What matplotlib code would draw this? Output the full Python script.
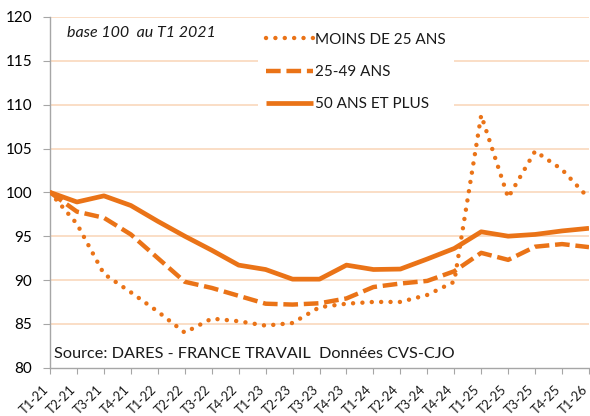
import matplotlib
matplotlib.use("Agg")
import matplotlib.pyplot as plt
import numpy as np

plt.rcParams['font.family'] = ['Lato', 'DejaVu Sans']

quarters = ["T1-21", "T2-21", "T3-21", "T4-21", "T1-22", "T2-22", "T3-22", "T4-22",
            "T1-23", "T2-23", "T3-23", "T4-23", "T1-24", "T2-24", "T3-24", "T4-24",
            "T1-25", "T2-25", "T3-25", "T4-25", "T1-26"]

moins25 = [100.0, 96.4, 90.7, 88.6, 86.4, 84.0, 85.6, 85.3, 84.8, 85.1, 86.9,
           87.3, 87.5, 87.5, 88.3, 89.8, 108.8, 99.4, 104.7, 102.6, 99.3]
a25_49 = [100.0, 97.8, 97.1, 95.2, 92.5, 89.8, 89.1, 88.2, 87.3, 87.2, 87.35,
          87.9, 89.2, 89.6, 89.9, 91.0, 93.1, 92.3, 93.8, 94.1, 93.75]
plus50 = [100.0, 98.9, 99.6, 98.5, 96.7, 95.0, 93.4, 91.7, 91.2, 90.1, 90.1,
          91.7, 91.2, 91.25, 92.4, 93.6, 95.5, 95.0, 95.2, 95.6, 95.9]

names = ["MOINS DE 25 ANS", "25-49 ANS", "50 ANS ET PLUS"]
yticks = [80, 85, 90, 95, 100, 105, 110, 115, 120]

orange = '#EA7317'
grid_c = '#FAD8BC'
spine_c = '#A6A6A6'

fig = plt.figure(figsize=(5.9, 4.16), dpi=100)
ax = fig.add_axes([50/590, 1-367.7/416, 539/590, (367.7-17)/416])

x = np.arange(len(quarters))
ax.plot(x, moins25, color=orange, lw=3.2, linestyle=(0, (0.01, 2.1)),
        dash_capstyle='round', label=names[0], zorder=3)
ax.plot(x, a25_49, color=orange, lw=3.2, linestyle=(0, (3.3, 1.3)),
        dash_capstyle='butt', label=names[1], zorder=3)
ax.plot(x, plus50, color=orange, lw=3.4, solid_capstyle='butt',
        solid_joinstyle='round', label=names[2], zorder=3)

ax.set_xlim(0, len(quarters) - 1)
ax.set_ylim(80, 120)
ax.set_yticks(yticks)
ax.set_yticklabels([str(v) for v in yticks], fontsize=11)
ax.set_xticks(x)
ax.set_xticklabels([])
xtrans = ax.get_xaxis_transform()
for i, q in zip(x, quarters):
    ax.annotate(q, xy=(i, 0), xycoords=xtrans, xytext=(-5.5, -11),
                textcoords='offset points', rotation=45, ha='right', va='top',
                rotation_mode='anchor', fontsize=9.3, color='#1A1A1A',
                annotation_clip=False)

for v in yticks[1:]:
    ax.axhline(v, color=grid_c, lw=1.2, zorder=1)

for s in ['top', 'right']:
    ax.spines[s].set_visible(False)
for s in ['left', 'bottom']:
    ax.spines[s].set_color(spine_c)
    ax.spines[s].set_linewidth(1.0)
ax.tick_params(axis='x', length=4, color=spine_c)
ax.tick_params(axis='y', length=5, color=spine_c, pad=8)

leg = ax.legend(loc='upper left', bbox_to_anchor=(208/539, 1 - 8/350.7),
                frameon=True, facecolor='white', edgecolor='none', framealpha=1,
                fontsize=11, handlelength=3.1, handletextpad=0.15,
                labelspacing=1.2, borderpad=0.5, borderaxespad=0)
leg.set_zorder(2)
for t in leg.get_texts():
    t.set_color('#1A1A1A')

ax.text(17/539, 1 - 16/350.7, "base 100  au T1 2021", transform=ax.transAxes,
        fontsize=11.5, style='italic', va='center', ha='left', color='#1A1A1A')
ax.text(4/539, 14/350.7, "Source: DARES - FRANCE TRAVAIL  Données CVS-CJO",
        transform=ax.transAxes, fontsize=11.7, va='center', ha='left',
        color='#1A1A1A', zorder=4)

fig.savefig("out.png", dpi=100)
